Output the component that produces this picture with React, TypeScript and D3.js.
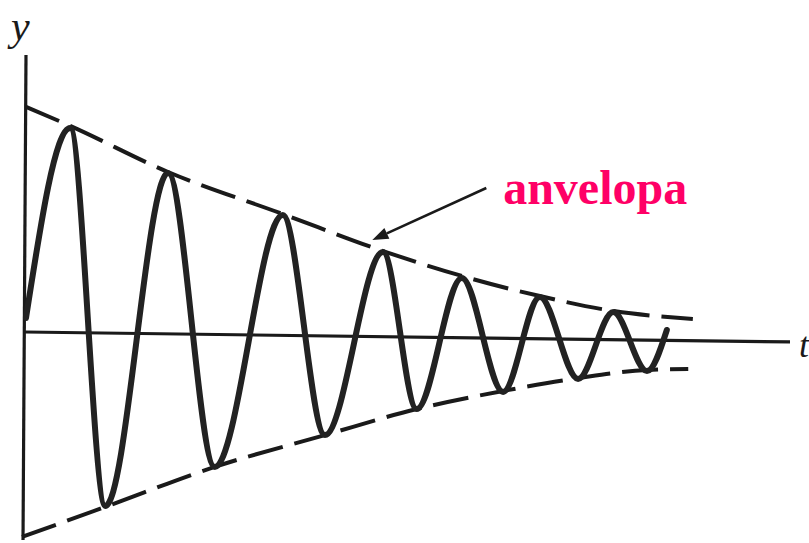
import React from "react";
import * as d3 from "d3";

// Oscillation extrema (t, y) (t: 0..100, y: -100..100)
const waveT = [0.13, 5.9, 10.5, 18.7, 24.8, 33.7, 39.2, 46.8, 51.2, 57.1, 62.5, 67.3, 72.3, 76.9, 81.3, 83.9];
const waveY = [6.2, 90.3, -77.0, 70.4, -59.7, 51.8, -45.6, 35.4, -34.1, 23.9, -26.5, 15.5, -20.8, 8.8, -17.3, 0.9];

// Upper envelope
const upperT = [0.13, 5.9, 18.7, 33.7, 46.8, 57.1, 67.3, 76.9, 87.3];
const upperY = [99.6, 91.2, 70.8, 52.2, 35.8, 24.8, 15.9, 9.3, 5.8];

// Lower envelope
const lowerT = [-0.39, 10.5, 24.8, 39.2, 51.2, 62.5, 72.3, 81.3, 86.7];
const lowerY = [-90.7, -77.4, -59.7, -45.6, -34.1, -26.1, -20.4, -16.8, -16.4];

// Axes end points
const yAxisT = [0.13, -0.26];
const yAxisY = [122.6, -92.0];
const tAxisT = [0, 100];
const tAxisY = [0, -4.4];

// Annotation arrow (from, to)
const arrowT = [60.3, 45.4];
const arrowY = [63.7, 40.7];

const labelText = "anvelopa";
const labelT = 62.5;
const labelY = 56.6;

export default function App() {
  const W = 809;
  const H = 543;
  const x = d3.scaleLinear().domain([0, 100]).range([25, 790]);
  const y = d3.scaleLinear().domain([-100, 100]).range([558, 106]);

  const zip = (ts: number[], ys: number[]) => ts.map((t, i) => [t, ys[i]] as [number, number]);

  const smooth = d3
    .line<[number, number]>()
    .x((d) => x(d[0]))
    .y((d) => y(d[1]))
    .curve(d3.curveMonotoneX);
  const straight = d3
    .line<[number, number]>()
    .x((d) => x(d[0]))
    .y((d) => y(d[1]));

  const ax0 = x(arrowT[0]);
  const ay0 = y(arrowY[0]);
  const ax1 = x(arrowT[1]);
  const ay1 = y(arrowY[1]);
  const ang = Math.atan2(ay1 - ay0, ax1 - ax0);
  const hl = 16;
  const hw = 6;
  const bx = ax1 - hl * Math.cos(ang);
  const by = ay1 - hl * Math.sin(ang);
  const head = [
    [ax1, ay1],
    [bx + hw * Math.sin(ang), by - hw * Math.cos(ang)],
    [bx - hw * Math.sin(ang), by + hw * Math.cos(ang)],
  ]
    .map((p) => p.join(","))
    .join(" ");

  return (
    <svg
      width={W}
      height={H}
      style={{ position: "absolute", left: 0, top: 0, background: "#fff" }}
    >
      <rect width={W} height={H} fill="#fff" />
      {/* axes */}
      <path d={straight(zip(yAxisT, yAxisY)) || ""} stroke="#1a1a1a" strokeWidth={3.2} fill="none" />
      <path d={straight(zip(tAxisT, tAxisY)) || ""} stroke="#1a1a1a" strokeWidth={3.2} fill="none" />
      {/* envelopes */}
      <path
        d={smooth(zip(upperT, upperY)) || ""}
        stroke="#1a1a1a"
        strokeWidth={4}
        strokeDasharray="36 12"
        fill="none"
      />
      <path
        d={smooth(zip(lowerT, lowerY)) || ""}
        stroke="#1a1a1a"
        strokeWidth={4}
        strokeDasharray="36 12"
        fill="none"
      />
      {/* wave */}
      <path
        d={smooth(zip(waveT, waveY)) || ""}
        stroke="#222"
        strokeWidth={6}
        strokeLinejoin="round"
        strokeLinecap="round"
        fill="none"
      />
      {/* arrow */}
      <line x1={ax0} y1={ay0} x2={bx} y2={by} stroke="#1a1a1a" strokeWidth={2.6} />
      <polygon points={head} fill="#1a1a1a" />
      {/* labels */}
      <text
        x={x(labelT)}
        y={y(labelY)}
        fill="#ff0066"
        fontFamily="'Liberation Serif', 'Times New Roman', serif"
        fontWeight="bold"
        fontSize={48}
      >
        {labelText}
      </text>
      <text
        x={11}
        y={40}
        fill="#1a1a1a"
        fontFamily="'Liberation Serif', 'Times New Roman', serif"
        fontStyle="italic"
        fontSize={42}
      >
        y
      </text>
      <text
        x={799}
        y={357}
        fill="#1a1a1a"
        fontFamily="'Liberation Serif', 'Times New Roman', serif"
        fontStyle="italic"
        fontSize={36}
      >
        t
      </text>
    </svg>
  );
}
